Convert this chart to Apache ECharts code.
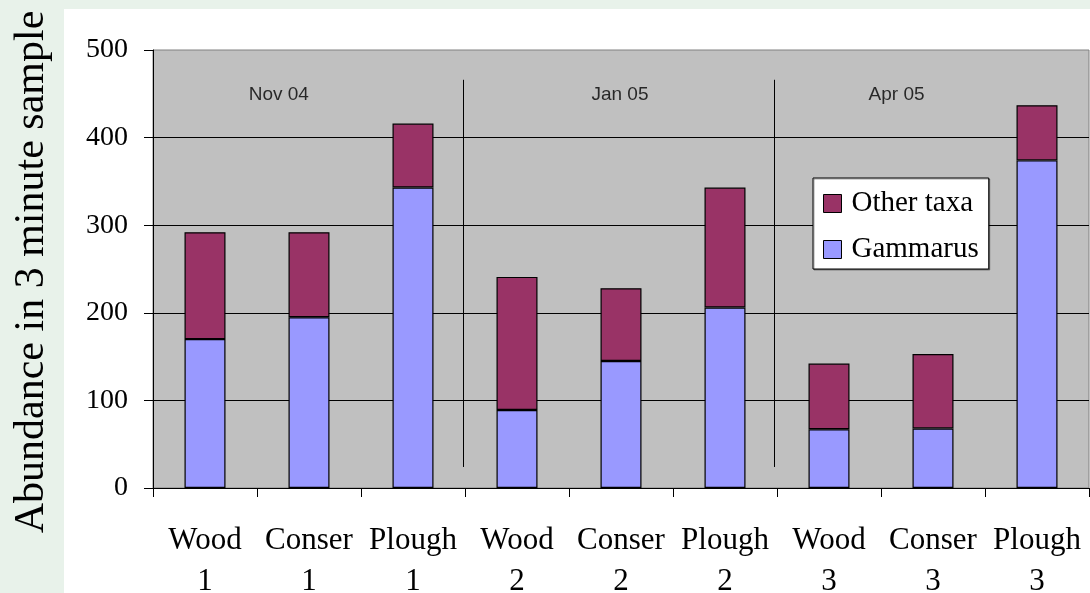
<!DOCTYPE html>
<html>
<head>
<meta charset="utf-8">
<script src="https://cdn.jsdelivr.net/npm/echarts@6/dist/echarts.min.js"></script>
<style>
  html, body { margin: 0; padding: 0; background: #e8f2ea; }
  #chart { width: 1090px; height: 593px; }
</style>
</head>
<body>
<div id="chart"></div>
<script>
// Sampling sites per survey, with invertebrate counts per 3 minute kick sample
const categories = ['Wood 1', 'Conser 1', 'Plough 1', 'Wood 2', 'Conser 2', 'Plough 2', 'Wood 3', 'Conser 3', 'Plough 3'];
const gammarus  = [170, 195, 343, 89, 145, 206, 67, 68, 374];
const otherTaxa = [122, 97, 73, 152, 83, 137, 75, 85, 63];
const periods = ['Nov 04', 'Jan 05', 'Apr 05'];
const seriesNames = ['Gammarus', 'Other taxa'];
const yTitle = 'Abundance in 3 minute sample';

const serif = "'Liberation Serif', 'Times New Roman', serif";
const sans = "'Liberation Sans', Arial, sans-serif";

// survey captions sit in the upper band of each group (x in category units)
const periodAnchorX = [1.21, 4.49, 7.15];
const periodAnchorY = 449;
// dividers between the three surveys
const dividerX = [2.98, 5.97];
const dividerSpan = [24, 466];

const chart = echarts.init(document.getElementById('chart'), null, { renderer: 'canvas' });

chart.setOption({
  backgroundColor: '#e8f2ea',
  animation: false,
  textStyle: { fontFamily: serif },
  graphic: [{
    type: 'rect',
    z: -10,
    silent: true,
    shape: { x: 64, y: 9, width: 1026, height: 584 },
    style: { fill: '#ffffff' }
  }],
  grid: {
    left: 153, right: 1, top: 50, bottom: 105,
    containLabel: false,
    outerBoundsMode: 'none',
    show: true,
    backgroundColor: '#c0c0c0',
    borderColor: '#808080',
    borderWidth: 1
  },
  legend: {
    data: [seriesNames[1], seriesNames[0]],
    orient: 'vertical',
    left: 813,
    top: 178,
    padding: [11, 10, 5, 10],
    itemGap: 17,
    itemWidth: 18,
    itemHeight: 18,
    icon: 'rect',
    backgroundColor: '#ffffff',
    borderColor: '#000000',
    borderWidth: 1,
    shadowColor: 'rgba(0,0,0,0.35)',
    shadowOffsetX: 1,
    shadowOffsetY: 1,
    itemStyle: { borderColor: '#000000', borderWidth: 1 },
    textStyle: { fontFamily: serif, fontSize: 29, color: '#000000', padding: [0, 0, 0, 5] }
  },
  xAxis: [{
    type: 'category',
    data: categories,
    axisLine: { lineStyle: { color: '#000000', width: 1 } },
    axisTick: { show: true, length: 9, lineStyle: { color: '#000000' } },
    axisLabel: {
      interval: 0,
      margin: 32,
      fontFamily: serif,
      fontSize: 31,
      lineHeight: 41,
      color: '#000000',
      formatter: v => v.replace(' ', '\n')
    },
    splitLine: { show: false }
  }, {
    type: 'value',
    min: 0,
    max: 9,
    show: false
  }],
  yAxis: {
    type: 'value',
    min: 0,
    max: 500,
    interval: 100,
    name: yTitle,
    nameLocation: 'middle',
    nameGap: 100,
    nameTextStyle: { fontFamily: serif, fontSize: 42, color: '#000000', padding: [0, 6, 0, 0] },
    axisLine: { show: true, lineStyle: { color: '#000000', width: 1 } },
    axisTick: { show: true, length: 9, lineStyle: { color: '#000000' } },
    axisLabel: {
      margin: 25,
      fontFamily: serif,
      fontSize: 28,
      color: '#000000',
      padding: [8, 0, 0, 0]
    },
    splitLine: { show: true, showMaxLine: false, lineStyle: { color: '#000000', width: 1 } }
  },
  series: [{
    name: seriesNames[0],
    type: 'bar',
    stack: 'total',
    barWidth: 41,
    data: gammarus,
    itemStyle: { color: '#9999ff', borderColor: '#000000', borderWidth: 1.2 }
  }, {
    name: seriesNames[1],
    type: 'bar',
    stack: 'total',
    barWidth: 41,
    data: otherTaxa,
    itemStyle: { color: '#993366', borderColor: '#000000', borderWidth: 1.2 }
  }, {
    name: 'periods',
    type: 'scatter',
    xAxisIndex: 1,
    symbolSize: 0,
    silent: true,
    data: periods.map((p, i) => ({ name: p, value: [periodAnchorX[i], periodAnchorY] })),
    label: {
      show: true,
      position: 'inside',
      formatter: p => p.name,
      fontFamily: sans,
      fontSize: 19,
      color: '#000000'
    },
    markLine: {
      silent: true,
      symbol: 'none',
      label: { show: false },
      lineStyle: { color: '#000000', width: 1, type: 'solid' },
      data: dividerX.map(x => [{ coord: [x, dividerSpan[0]] }, { coord: [x, dividerSpan[1]] }])
    }
  }]
});
</script>
</body>
</html>
